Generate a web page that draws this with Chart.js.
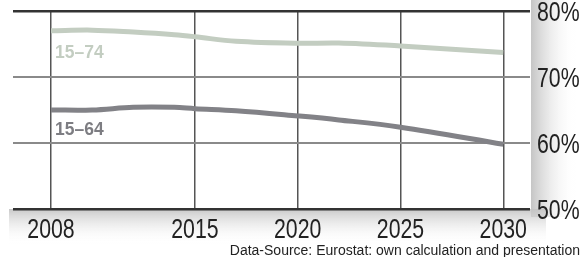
<!DOCTYPE html>
<html>
<head>
<meta charset="utf-8">
<script src="https://cdn.jsdelivr.net/npm/chart.js@4"></script>
<style>
  html, body { margin: 0; padding: 0; background: #fff; }
  #wrap { position: relative; width: 582px; height: 257px; overflow: hidden; }
  #source {
    position: absolute; right: 2px; top: 242px;
    font: 14px "Liberation Sans", Arial, sans-serif; color: #222;
    white-space: nowrap;
  }
</style>
</head>
<body>
<div id="wrap">
  <canvas id="chart" width="582" height="257"></canvas>
  <div id="source">Data-Source: Eurostat: own calculation and presentation</div>
</div>
<script>
// chart values
const years = [2008, 2010, 2012, 2014, 2015, 2017, 2020, 2022, 2025, 2030];
const share1574 = [77.0, 77.1, 76.8, 76.4, 76.1, 75.4, 75.1, 75.15, 74.7, 73.7];
const share1564 = [65.0, 65.0, 65.4, 65.4, 65.2, 64.9, 64.1, 63.5, 62.4, 59.8];
const xTicks = [2008, 2015, 2020, 2025, 2030];
const yTicks = [50, 60, 70, 80];
const seriesLabels = ['15\u201374', '15\u201364'];

const tickFont = '28px "Liberation Sans", Arial, sans-serif';
const squeeze = 0.76; // the original uses a condensed face

// grey drop shadows right of and below the plot
const shadowPlugin = {
    id: 'shadow',
    beforeDraw(chart) {
        const ctx = chart.ctx;
        const a = chart.chartArea;
        ctx.save();
        let g = ctx.createLinearGradient(a.right + 1, 0, a.right + 46, 0);
        g.addColorStop(0, 'rgba(190,190,190,0.9)');
        g.addColorStop(1, 'rgba(255,255,255,0)');
        ctx.fillStyle = g;
        ctx.fillRect(a.right + 1, 0, 52, a.bottom + 8);
        g = ctx.createLinearGradient(0, a.bottom, 0, a.bottom + 36);
        g.addColorStop(0, 'rgba(195,195,195,0.9)');
        g.addColorStop(1, 'rgba(255,255,255,0)');
        ctx.fillStyle = g;
        ctx.fillRect(a.left - 4, a.bottom, a.right - a.left + 20, 36);
        ctx.fillStyle = '#fff';
        ctx.fillRect(a.left, a.top, a.right - a.left, a.bottom - a.top);
        ctx.restore();
    }
};

// condensed tick labels, placed from the chart's own scales
const tickLabelPlugin = {
    id: 'tickLabels',
    afterDraw(chart) {
        const ctx = chart.ctx;
        const xs = chart.scales.x, ys = chart.scales.y;
        const a = chart.chartArea;
        ctx.save();
        ctx.font = tickFont;
        ctx.fillStyle = '#222';
        ctx.textBaseline = 'alphabetic';
        ctx.textAlign = 'center';
        xs.ticks.forEach(t => {
            const px = xs.getPixelForValue(t.value);
            ctx.save();
            ctx.translate(px, a.bottom + 28.5);
            ctx.scale(squeeze, 1);
            ctx.fillText(String(t.value), 0, 0);
            ctx.restore();
        });
        ctx.textAlign = 'left';
        ys.ticks.forEach(t => {
            const py = ys.getPixelForValue(t.value);
            ctx.save();
            ctx.translate(a.right + 7, py + 10);
            ctx.scale(squeeze, 1);
            ctx.fillText(t.value + '%', 0, 0);
            ctx.restore();
        });
        ctx.restore();
    }
};

// series labels under the start of each line
const labelPlugin = {
    id: 'seriesLabels',
    afterDatasetsDraw(chart) {
        const ctx = chart.ctx;
        const xs = chart.scales.x, ys = chart.scales.y;
        ctx.save();
        ctx.font = 'bold 17.5px "Liberation Sans", Arial, sans-serif';
        ctx.textBaseline = 'top';
        ctx.fillStyle = '#c3cdc1';
        ctx.fillText(seriesLabels[0], xs.getPixelForValue(years[0]) + 4, ys.getPixelForValue(share1574[0]) + 14);
        ctx.fillStyle = '#7d7d82';
        ctx.fillText(seriesLabels[1], xs.getPixelForValue(years[0]) + 4, ys.getPixelForValue(share1564[0]) + 11);
        ctx.restore();
    }
};

new Chart(document.getElementById('chart'), {
    type: 'line',
    data: {
        datasets: [{
            label: seriesLabels[0],
            data: years.map((y, i) => ({ x: y, y: share1574[i] })),
            borderColor: '#c3cdc1',
            borderWidth: 5,
            pointRadius: 0,
            tension: 0.35,
            borderCapStyle: 'butt'
        }, {
            label: seriesLabels[1],
            data: years.map((y, i) => ({ x: y, y: share1564[i] })),
            borderColor: '#828287',
            borderWidth: 5,
            pointRadius: 0,
            tension: 0.35,
            borderCapStyle: 'butt'
        }]
    },
    options: {
        responsive: false,
        animation: false,
        layout: { padding: { left: 13, top: 11, right: 0, bottom: 0 } },
        plugins: { legend: { display: false }, tooltip: { enabled: false } },
        scales: {
            x: {
                type: 'linear',
                min: 2006.15,
                max: 2031.3,
                afterBuildTicks: s => { s.ticks = xTicks.map(v => ({ value: v })); },
                afterFit: s => { s.height = 48; },
                border: { display: false },
                grid: { color: '#555', lineWidth: 1.5, drawTicks: false },
                ticks: { display: false }
            },
            y: {
                position: 'right',
                min: 50,
                max: 80,
                afterBuildTicks: s => { s.ticks = yTicks.map(v => ({ value: v })); },
                afterFit: s => { s.width = 52; },
                border: { display: false },
                grid: {
                    color: c => (c.tick.value === 50 || c.tick.value === 80) ? '#333' : '#8a8a8a',
                    lineWidth: c => (c.tick.value === 50 || c.tick.value === 80) ? 2.5 : 2,
                    drawTicks: false
                },
                ticks: { display: false }
            }
        }
    },
    plugins: [shadowPlugin, tickLabelPlugin, labelPlugin]
});
</script>
</body>
</html>
